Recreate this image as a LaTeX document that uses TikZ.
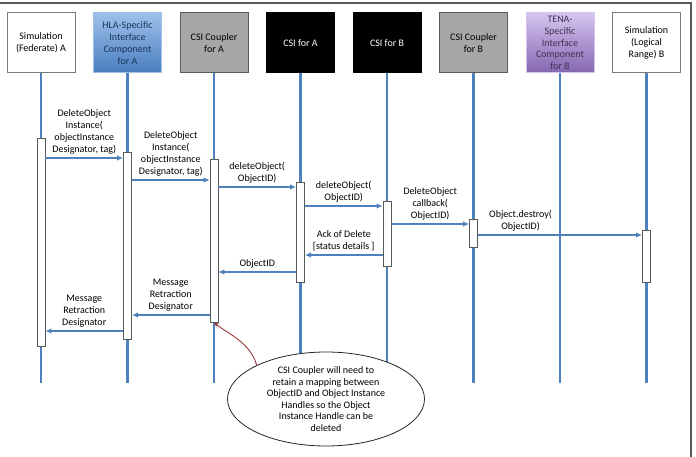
\documentclass[tikz,border=0pt]{standalone}
\usepackage{fontspec}
\setmainfont{Carlito}
\usepackage{tikz}
\usetikzlibrary{arrows.meta,positioning,shapes.geometric}
\definecolor{lifeblue}{HTML}{4F81BD}
\definecolor{hlatop}{HTML}{9DC0E8}
\definecolor{hlabot}{HTML}{4A7EC0}
\definecolor{hlatext}{HTML}{17365D}
\definecolor{tenatop}{HTML}{D6C4F0}
\definecolor{tenabot}{HTML}{8466B0}
\definecolor{tenatext}{HTML}{3F3151}
\definecolor{couplergray}{HTML}{A6A6A6}
\definecolor{framegray}{HTML}{595959}
\definecolor{calloutred}{HTML}{953735}

\begin{document}
\begin{tikzpicture}[x=1pt,y=-1pt,
  head/.style={draw=framegray!80,line width=1pt,minimum width=68pt,minimum height=60pt,
               inner sep=1pt,align=center,font=\fontsize{10}{12}\selectfont},
  hlabox/.style={draw=hlatop,top color=hlatop,bottom color=hlabot,text=hlatext},
  tenabox/.style={draw=tenatop,top color=tenatop,bottom color=tenabot,text=tenatext},
  couplerbox/.style={draw=framegray,fill=couplergray},
  csibox/.style={draw=black,fill=black,text=white},
  life/.style={lifeblue,line width=2.2pt},
  bar/.style={draw=framegray,fill=white,line width=0.8pt,minimum width=8pt,inner sep=0pt},
  msg/.style={-{Latex[length=6pt,width=5.5pt]},lifeblue,line width=1.8pt},
  lbl/.style={black,align=center,inner sep=3pt,font=\fontsize{10}{12}\selectfont},
  note/.style={ellipse,draw=black!85,fill=white,line width=0.8pt,inner sep=0pt,
               minimum width=197pt,minimum height=94pt,
               align=center,font=\fontsize{10}{11.5}\selectfont},
  callout/.style={-{Stealth[length=5pt,width=4.5pt]},calloutred,line width=0.9pt}
]
\useasboundingbox (0,0) rectangle (696,457);
\draw[framegray,line width=1.5pt] (0,3) -- (691,3) -- (691,457);

% participants
\node[head] (simA) at (41,43) {Simulation\\(Federate) A};
\node[head,hlabox,right=17.5pt of simA] (hlaA) {HLA-Specific\\Interface\\Component\\for A};
\node[head,couplerbox,right=17.5pt of hlaA] (cplA) {CSI Coupler\\for A};
\node[head,csibox,right=17.5pt of cplA] (csiA) {CSI for A};
\node[head,csibox,right=17.5pt of csiA] (csiB) {CSI for B};
\node[head,couplerbox,right=17.5pt of csiB] (cplB) {CSI Coupler\\for B};
\node[head,tenabox,right=17.5pt of cplB,font=\fontsize{10}{11.8}\selectfont] (tenaB) {TENA-\\Specific\\Interface\\Component\\for B};
\node[head,right=17.5pt of tenaB] (simB) {Simulation\\(Logical\\Range) B};

% lifelines
\coordinate (bottom) at (0,383);
\draw[life] (simA.south) -- (simA |- bottom);
\draw[life] (hlaA.south) -- (hlaA |- bottom);
\draw[life] (cplA.south) -- (cplA |- bottom);
\draw[life] (csiA.south) -- (csiA |- bottom);
\draw[life] (csiB.south) -- (csiB |- bottom);
\draw[life] (cplB.south) -- (cplB |- bottom);
\draw[life] (tenaB.south) -- (tenaB |- bottom);
\draw[life] (simB.south) -- (simB |- bottom);

% activation bars
\node[bar,minimum height=208pt] (actA) at (simA |- 0,242) {};
\node[bar,minimum height=187pt] (actH) at (hlaA |- 0,245.5) {};
\node[bar,minimum height=163pt] (actC) at (cplA |- 0,240.5) {};
\node[bar,minimum height=100pt] (actD) at (csiA |- 0,232) {};
\node[bar,minimum height=65pt] (actE) at (csiB |- 0,233.5) {};
\node[bar,minimum height=28pt] (actF) at (cplB |- 0,233) {};
\node[bar,minimum height=52pt] (actS) at (simB |- 0,256) {};

% messages
\draw[msg] (actA.east |- 0,158) -- (actH.west |- 0,158)
  node[lbl,midway,above] {DeleteObject\\Instance(\\objectInstance\\Designator, tag)};
\draw[msg] (actH.east |- 0,180) -- (actC.west |- 0,180)
  node[lbl,midway,above] {DeleteObject\\Instance(\\objectInstance\\Designator, tag)};
\draw[msg] (actC.east |- 0,187) -- (actD.west |- 0,187)
  node[lbl,midway,above] {deleteObject(\\ObjectID)};
\draw[msg] (actD.east |- 0,206) -- (actE.west |- 0,206)
  node[lbl,midway,above] {deleteObject(\\ObjectID)};
\draw[msg] (actE.east |- 0,224) -- (actF.west |- 0,224)
  node[lbl,midway,above] {DeleteObject\\callback(\\ObjectID)};
\draw[msg] (actF.east |- 0,235) -- (actS.west |- 0,235)
  node[lbl,pos=0.26,above] {Object.destroy(\\ObjectID)};
\draw[msg] (actE.west |- 0,255) -- (actD.east |- 0,255)
  node[lbl,midway,above] {Ack of Delete\\{[status details ]}};
\draw[msg] (actD.west |- 0,272) -- (actC.east |- 0,272)
  node[lbl,midway,above] {ObjectID};
\draw[msg] (actC.west |- 0,315) -- (actH.east |- 0,315)
  node[lbl,midway,above] {Message\\Retraction\\Designator};
\draw[msg] (actH.west |- 0,331) -- (actA.east |- 0,331)
  node[lbl,midway,above] {Message\\Retraction\\Designator};

% note
\node[note] (note) at (326,399) {CSI Coupler will need to\\retain a mapping between\\ObjectID and Object Instance\\Handles so the Object\\Instance Handle can be\\deleted};
\draw[callout] (note.154) .. controls (250,342) and (228,334) .. (actC.south);
\end{tikzpicture}
\end{document}
